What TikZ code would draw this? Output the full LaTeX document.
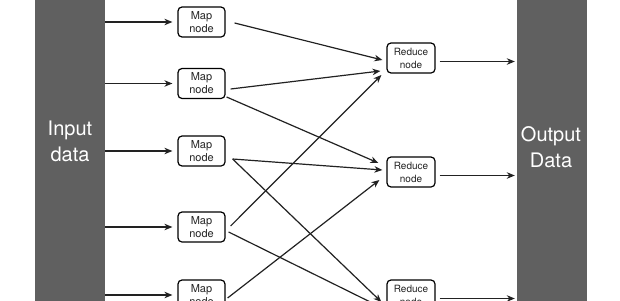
\documentclass[tikz,border=0pt]{standalone}
\usepackage{fontspec}
\setmainfont{TeX Gyre Heros}
\usetikzlibrary{arrows.meta,calc}
\definecolor{barcol}{HTML}{606060}
\definecolor{lncol}{HTML}{222222}
\begin{document}
\begin{tikzpicture}[x=1pt,y=-1pt,
  bigbar/.style={fill=barcol,draw=none,minimum width=70pt,minimum height=340pt,inner sep=0pt},
  bartxt/.style={text=white,inner sep=0pt,font=\fontsize{20}{26}\selectfont},
  mapbox/.style={draw=black,line width=1.2pt,rounded corners=4pt,fill=white,minimum width=47pt,minimum height=30pt,inner sep=0pt,align=center,text=black!85,font=\fontsize{11}{13}\selectfont},
  redbox/.style={mapbox,minimum width=48pt,font=\fontsize{10}{13}\selectfont},
  conn/.style={draw=lncol,line width=1.2pt,-{Stealth[length=8pt,width=6.5pt,inset=2.5pt]}}
]
\useasboundingbox (0,0) rectangle (620,300);
\clip (0,0) rectangle (620,300);
\fill[white] (0,0) rectangle (620,300);

% bars
\node[bigbar] (inbar) at (70,150) {};
\node[bigbar] (outbar) at (552,150) {};
\node[bartxt,anchor=base] (in1) at (70,135) {Input};
\node[bartxt,anchor=base] (in2) at (70,161) {data};
\node[bartxt,anchor=base] (out1) at (551,141.5) {Output};
\node[bartxt,anchor=base] (out2) at (551,167.5) {Data};

% map nodes
\node[mapbox] (m1) at (201.5,22) {Map\\node};
\node[mapbox] (m2) at (201.5,83.5) {Map\\node};
\node[mapbox] (m3) at (201.5,151) {Map\\node};
\node[mapbox] (m4) at (201.5,227) {Map\\node};
\node[mapbox] (m5) at (201.5,295) {Map\\node};

% reduce nodes
\node[redbox] (r1) at (411,58) {Reduce\\node};
\node[redbox] (r2) at (411,172) {Reduce\\node};
\node[redbox] (r3) at (411,295) {Reduce\\node};

% input arrows
\foreach \m in {m1,m2,m3,m4,m5}{
  \draw[conn] (inbar.east |- \m.west) -- ($(\m.west)+(-5,0)$);
}

% output arrows
\foreach \r in {r1,r2,r3}{
  \draw[conn] ($(\r.east)+(4,3.5)$) -- ($(outbar.west |- \r.east)+(-2,3.5)$);
}

% map -> reduce
\draw[conn] ($(m1.east)+(9,1)$) -- ($(r1.west)+(-4,2)$);
\draw[conn] ($(m2.east)+(5,5.5)$) -- ($(r1.west)+(-6,13)$);
\draw[conn] ($(m2.east)+(1,13.5)$) -- ($(r2.west)+(-8,-9)$);
\draw[conn] ($(m3.east)+(7,8)$) -- ($(r2.west)+(-4,-2)$);
\draw[conn] ($(m3.east)+(7,8)$) -- ($(r3.west)+(-5,7)$);
\draw[conn] ($(m4.east)+(5,-1)$) -- ($(r1.west)+(-5,17)$);
\draw[conn] ($(m4.east)+(3,5)$) -- ($(r3.west)+(-4,13)$);
\draw[conn] ($(m5.east)+(2,3)$) -- ($(r2.west)+(-7,8)$);
\end{tikzpicture}
\end{document}
